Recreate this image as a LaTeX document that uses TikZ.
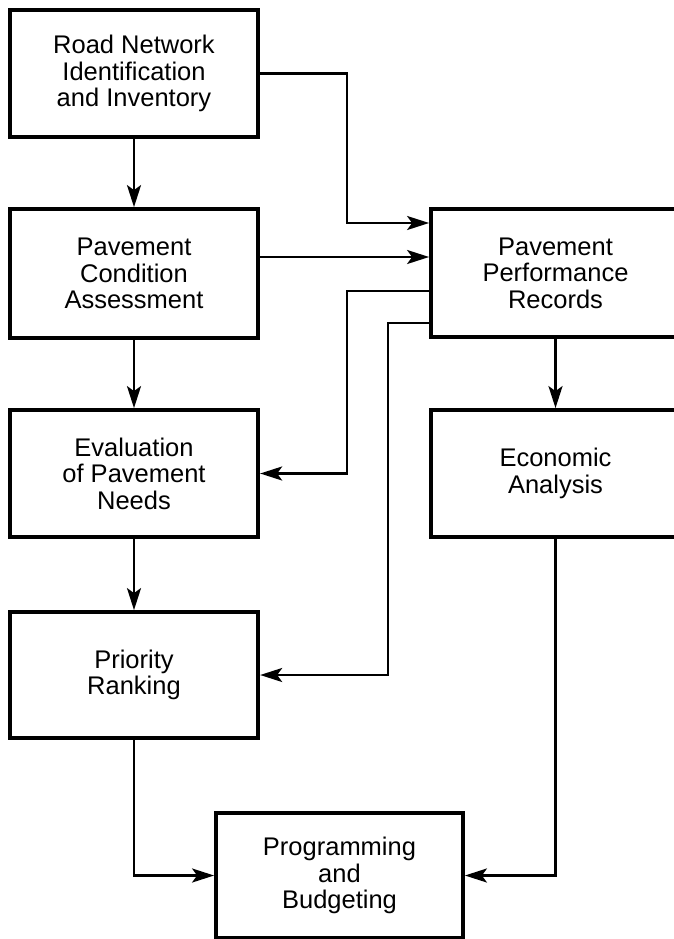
\documentclass[tikz,border=0pt]{standalone}
\usepackage{fontspec}
\setmainfont{Liberation Sans}
\usetikzlibrary{arrows.meta}
\begin{document}
\begin{tikzpicture}[x=1pt,y=-1pt,
  box/.style={draw=black,line width=3.8pt,rectangle,align=center,inner sep=0pt,
    font=\fontsize{25.5}{26.5}\selectfont},
  arr/.style={line width=2.4pt,-{Stealth[length=22pt,width=14pt,inset=5pt]}}]
\useasboundingbox (0,0) rectangle (674,939);
\fill[white] (0,0) rectangle (674,939);
\clip (0,0) rectangle (674,939);
\node[box,minimum width=248.5pt,minimum height=127pt] (b1) at (134,73.5) {Road Network\\Identification\\and Inventory};
\node[box,minimum width=248.5pt,minimum height=129pt] (b2) at (134,273.5) {Pavement\\Condition\\Assessment};
\node[box,minimum width=248.5pt,minimum height=127pt] (b3) at (134,473.5) {Evaluation\\of Pavement\\Needs};
\node[box,minimum width=248.5pt,minimum height=126pt] (b4) at (134,675) {Priority\\Ranking};
\node[box,minimum width=247pt,minimum height=125pt] (b5) at (339.5,875.5) {Programming\\and\\Budgeting};
\node[box,minimum width=249pt,minimum height=128pt] (b6) at (555.5,273) {Pavement\\Performance\\Records};
\node[box,minimum width=249pt,minimum height=127pt] (b7) at (555.5,473.5) {Economic\\Analysis};
\coordinate (k1) at (347,223);
\coordinate (k2) at (347,257);
\coordinate (k3) at (347,291);
\coordinate (k4) at (388,323);
\draw[arr] (b1.south) -- (b2.north);
\draw[arr] (b2.south) -- (b3.north);
\draw[arr] (b3.south) -- (b4.north);
\draw[arr] (b6.south) -- (b7.north);
\draw[arr] (b1.east) -| (k1) -- (b6.west |- k1);
\draw[arr] (b2.east |- k2) -- (b6.west |- k2);
\draw[arr] (b6.west |- k3) -- (k3) |- (b3.east);
\draw[arr] (b6.west |- k4) -- (k4) |- (b4.east);
\draw[arr] (b4.south) |- (b5.west);
\draw[arr] (b7.south) |- (b5.east);
\end{tikzpicture}
\end{document}
